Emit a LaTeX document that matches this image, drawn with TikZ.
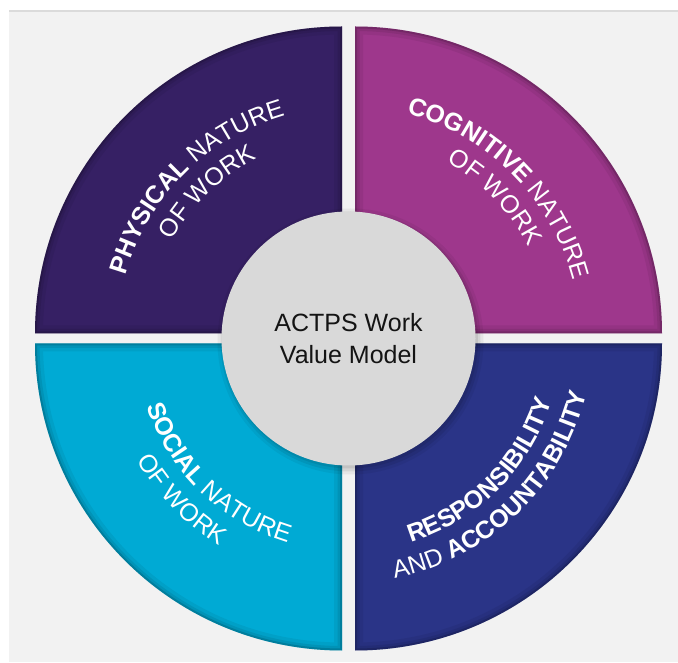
\documentclass[tikz,border=0pt]{standalone}
\usepackage{fontspec}
\setmainfont{Liberation Sans}
\usetikzlibrary{calc,decorations.text}

\definecolor{panelgray}{HTML}{F2F2F2}
\definecolor{physical}{HTML}{362064}
\definecolor{cognitive}{HTML}{9E378C}
\definecolor{social}{HTML}{00AAD4}
\definecolor{respons}{HTML}{2A3487}
\definecolor{hubgray}{HTML}{D9D9D9}

% fonts for the curved labels
\newcommand{\arcB}{\fontsize{25}{30}\selectfont\bfseries}
\newcommand{\arcR}{\fontsize{25}{30}\selectfont\mdseries}

% outline of one quarter disc: offset of its corner and start angle
\newcommand{\quadpath}[3]{($(C)+(#1,#2)$) -- ++(#3:307) arc[start angle=#3,end angle=#3+90,radius=307] -- cycle}

% filled quarter with a soft inner shadow along its edges
\newcommand{\workquad}[4]{%
  \fill[#1] \quadpath{#2}{#3}{#4};
  \begin{scope}
    \clip \quadpath{#2}{#3}{#4};
    \draw[black, opacity=0.06, line width=16] \quadpath{#2}{#3}{#4};
    \draw[black, opacity=0.08, line width=9] \quadpath{#2}{#3}{#4};
    \draw[black, opacity=0.14, line width=4] \quadpath{#2}{#3}{#4};
  \end{scope}}

\begin{document}
\begin{tikzpicture}[x=1pt,y=1pt,
  arclabel/.style={decorate, decoration={text along path, text={#1},
      text align=center, text color=white}},
  hub/.style={circle, fill=hubgray, minimum size=254pt, inner sep=0pt},
  hubtext/.style={font=\fontsize{25}{32}\selectfont, text=black!92, align=center}]

\useasboundingbox (0,0) rectangle (678,662);
\fill[white] (0,0) rectangle (678,662);
\fill[panelgray] (9,0) rectangle (678,651);
\draw[black!14, line width=1.2] (9,651) -- (678,651);

\coordinate (C) at (348.5,323.5);

% the four quarters
\workquad{physical}{-6.5}{5}{90}
\workquad{cognitive}{6.5}{5}{0}
\workquad{social}{-6.5}{-5}{180}
\workquad{respons}{6.5}{-5}{270}

% shadow and disc of the centre
\fill[black, opacity=0.05] ($(C)+(2,-3)$) circle[radius=133];
\fill[black, opacity=0.07] ($(C)+(2,-3)$) circle[radius=130];
\fill[black, opacity=0.08] ($(C)+(1.5,-2)$) circle[radius=128];
\node[hub] (core) at (C) {};
\node[hubtext] (title) at (C) {ACTPS Work\\Value Model};

% curved labels, top quarters read clockwise
\path[arclabel={|\arcB|PHYSICAL |\arcR|NATURE}]
  ($(C)+(175:232)$) arc[start angle=175, end angle=95, radius=232];
\path[arclabel={|\arcR|OF WORK}]
  ($(C)+(174:202)$) arc[start angle=174, end angle=94, radius=202];
\path[arclabel={|\arcB|COGNITIVE |\arcR|NATURE}]
  ($(C)+(85:232)$) arc[start angle=85, end angle=5, radius=232];
\path[arclabel={|\arcR|OF WORK}]
  ($(C)+(84:202)$) arc[start angle=84, end angle=4, radius=202];

% bottom quarters read counter-clockwise
\path[arclabel={|\arcB|SOCIAL |\arcR|NATURE}]
  ($(C)+(186:213)$) arc[start angle=186, end angle=266, radius=213];
\path[arclabel={|\arcR|OF WORK}]
  ($(C)+(184:244)$) arc[start angle=184, end angle=264, radius=244];
\path[arclabel={|\arcB|RESPONSIBILITY}]
  ($(C)+(275:213)$) arc[start angle=275, end angle=355, radius=213];
\path[arclabel={|\arcR|AND |\arcB|ACCOUNTABILITY}]
  ($(C)+(272:244)$) arc[start angle=272, end angle=356, radius=244];

\end{tikzpicture}
\end{document}
